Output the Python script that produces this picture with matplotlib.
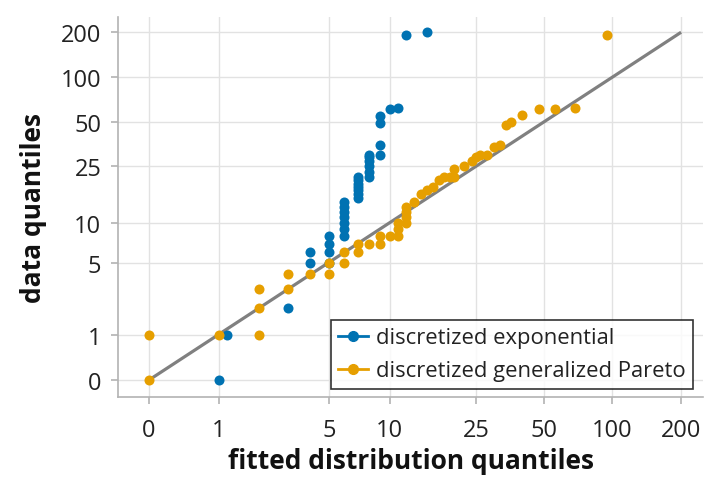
import numpy as np
import matplotlib
matplotlib.use("Agg")
import matplotlib.pyplot as plt
from matplotlib.lines import Line2D

# ---- data ----
ticks = [0, 1, 5, 10, 25, 50, 100, 200]
tick_labels = ["0", "1", "5", "10", "25", "50", "100", "200"]

exp_x = [1, 1.17, 3, 4, 4, 5, 5, 5, 5, 6, 6, 6, 6, 6, 6, 6,
         7, 7, 7, 7, 7, 7, 7, 8, 8, 8, 8, 8, 8,
         9, 9, 9, 9, 10, 11, 12, 15]
exp_y = [0, 1, 2, 5, 6, 5, 6, 7, 8, 8, 9, 10, 11, 12, 13, 14,
         15, 16, 17, 18, 19, 20, 21, 21, 23, 25, 27, 29, 30,
         30, 35, 49, 55, 61, 62, 192, 201]

gp_x = [0, 0, 1, 2, 2, 2, 3, 3, 4, 5, 5, 6, 6, 7, 7, 8, 9, 9, 10, 11, 11, 11,
        12, 12, 12, 12, 13, 14, 15, 16, 17, 18, 19, 20, 20, 22, 24, 25, 26, 28,
        30, 32, 34, 36, 40, 48, 56, 69, 95]
gp_y = [0, 1, 1, 1, 2, 3, 3, 4, 4, 4, 5, 5, 6, 6, 7, 7, 7, 8, 8, 8, 9, 10,
        10, 11, 12, 13, 14, 16, 17, 18, 20, 21, 21, 21, 24, 25, 27, 29, 30, 30,
        34, 35, 48, 50, 56, 61, 61, 62, 192]

ref_line = [0, 200]

labels = ["discretized exponential", "discretized generalized Pareto"]
colors = ["#0072B2", "#E69F00"]


def fwd(v):
    v = np.asarray(v, dtype=float)
    return np.sign(v) * np.log10(1 + np.abs(v))


def inv(v):
    v = np.asarray(v, dtype=float)
    return np.sign(v) * (10 ** np.abs(v) - 1)


plt.rcParams['font.family'] = ['Open Sans', 'DejaVu Sans']

W, H = 718, 481
fig = plt.figure(figsize=(W / 100, H / 100), dpi=100)
L, R, T, B = 118, 703, 18, 398
ax = fig.add_axes([L / W, 1 - B / H, (R - L) / W, (B - T) / H])

ax.set_xscale('function', functions=(fwd, inv))
ax.set_yscale('function', functions=(fwd, inv))

ax.plot(ref_line, ref_line, color="#808080", lw=2.3, zorder=2, solid_capstyle='butt')
ax.scatter(exp_x, exp_y, s=52, color=colors[0], linewidths=0, zorder=3)
ax.scatter(gp_x, gp_y, s=52, color=colors[1], linewidths=0, zorder=4)

ax.set_xlim(-0.362, 249.0)
ax.set_ylim(-0.296, 252.6)

ax.set_xticks(ticks)
ax.set_xticklabels(tick_labels)
ax.set_yticks(ticks)
ax.set_yticklabels(tick_labels)
ax.minorticks_off()

for s in ['top', 'right']:
    ax.spines[s].set_visible(False)
for s in ['left', 'bottom']:
    ax.spines[s].set_color('#b3b3b3')
    ax.spines[s].set_linewidth(1.2)
ax.tick_params(axis='both', which='major', direction='out', length=5, width=1.2,
               color='#b3b3b3', labelsize=17, labelcolor='#222222', pad=7)
ax.tick_params(axis='x', pad=10)
ax.set_axisbelow(True)
ax.grid(True, color='#e2e2e2', linewidth=1.0)

ax.set_xlabel("fitted distribution quantiles", fontsize=19, fontweight='bold', labelpad=4, color='#111111')
ax.set_ylabel("data quantiles", fontsize=19, fontweight='bold', labelpad=10, color='#111111')

handles = [Line2D([0], [0], color=c, lw=2, marker='o', markersize=7) for c in colors]
leg = ax.legend(handles, labels, loc='lower right', bbox_to_anchor=((693 - L) / (R - L), (B - 390) / (B - T)),
                borderaxespad=0, frameon=True, fancybox=False,
                edgecolor='black', handlelength=1.35, handletextpad=0.35,
                borderpad=0.35, labelspacing=0.55, prop={'size': 15.8})
leg.get_frame().set_linewidth(1.2)
for t in leg.get_texts():
    t.set_color('#222222')

fig.savefig("out.png", dpi=100)
